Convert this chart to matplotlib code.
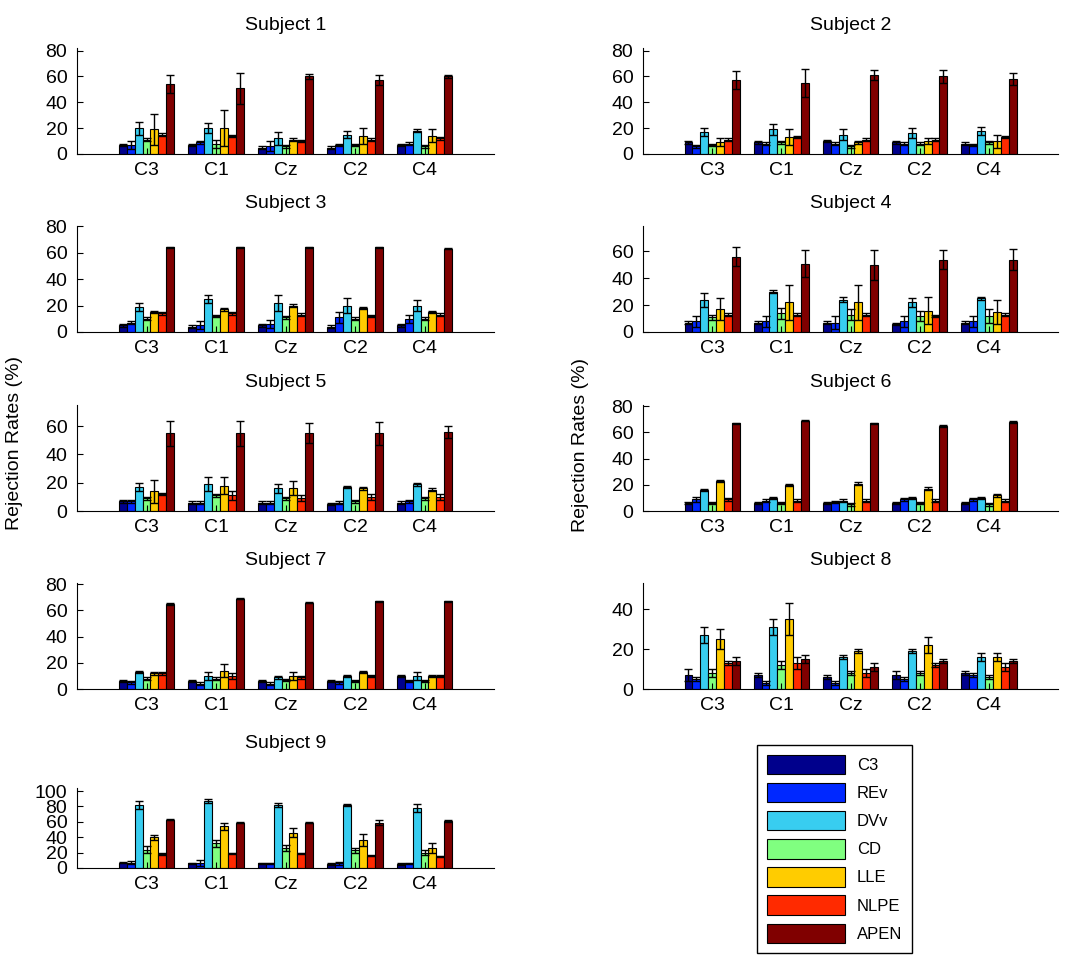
import numpy as np
import matplotlib
matplotlib.use("Agg")
import matplotlib.pyplot as plt

plt.rcParams["font.family"] = ["Liberation Sans", "DejaVu Sans"]

electrodes = ["C3", "C1", "Cz", "C2", "C4"]
methods = ["C3", "REv", "DVv", "CD", "LLE", "NLPE", "APEN"]

# rows = electrodes, columns = methods (mean rejection rate in %, and its error)
s1_mean = [[7, 7, 20, 11, 19, 15, 54],
           [7, 9, 20, 8, 20, 14, 51],
           [5, 6, 12, 6, 11, 10, 60],
           [5, 7, 15, 7, 14, 11, 57],
           [7, 8, 18, 6, 14, 12, 60]]
s1_err = [[1, 3, 5, 1, 12, 1, 7],
          [1, 1, 4, 3, 14, 1, 12],
          [1, 4, 5, 1, 1, 1, 2],
          [1, 1, 3, 1, 6, 1, 4],
          [1, 1, 1, 1, 5, 1, 1]]

s2_mean = [[9, 6, 17, 7, 9, 11, 57],
           [9, 8, 19, 9, 13, 13, 55],
           [10, 8, 15, 6, 9, 11, 61],
           [9, 8, 16, 8, 10, 11, 60],
           [8, 7, 18, 9, 10, 13, 58]]
s2_err = [[1, 1, 3, 1, 3, 1, 7],
          [1, 1, 4, 1, 6, 1, 11],
          [1, 1, 4, 1, 1, 1, 4],
          [1, 1, 4, 1, 2, 1, 5],
          [1, 1, 3, 1, 5, 1, 5]]

s3_mean = [[5, 7, 19, 10, 15, 14, 64],
           [4, 5, 25, 12, 17, 14, 64],
           [5, 6, 22, 11, 20, 13, 64],
           [4, 11, 20, 10, 18, 12, 64],
           [5, 10, 20, 10, 15, 13, 63]]
s3_err = [[1, 1, 3, 1, 1, 1, 0.5],
          [1, 3, 3, 1, 1, 1, 0.5],
          [1, 3, 6, 1, 1, 1, 0.5],
          [1, 4, 6, 1, 1, 1, 0.5],
          [1, 3, 4, 1, 1, 1, 0.5]]

s4_mean = [[7, 8, 24, 11, 17, 13, 56],
           [7, 8, 30, 14, 22, 13, 51],
           [7, 7, 24, 13, 22, 13, 50],
           [6, 8, 22, 12, 16, 12, 54],
           [7, 8, 25, 12, 15, 13, 54]]
s4_err = [[1, 4, 5, 2, 8, 1, 7],
          [1, 4, 1, 4, 13, 1, 10],
          [1, 5, 2, 4, 13, 1, 11],
          [1, 4, 3, 4, 10, 1, 7],
          [1, 4, 1, 5, 9, 1, 8]]

s5_mean = [[7, 7, 17, 9, 14, 12, 55],
           [6, 6, 19, 11, 18, 11, 55],
           [6, 6, 16, 9, 16, 9, 55],
           [5, 6, 17, 7, 16, 10, 55],
           [6, 7, 19, 9, 15, 10, 56]]
s5_err = [[1, 1, 3, 1, 8, 1, 9],
          [1, 1, 5, 1, 6, 3, 9],
          [1, 1, 3, 1, 5, 2, 7],
          [1, 1, 1, 1, 1, 2, 8],
          [1, 1, 1, 1, 1, 2, 4]]

s6_mean = [[6, 9, 16, 6, 23, 9, 67],
           [6, 8, 10, 6, 20, 8, 69],
           [6, 7, 8, 5, 21, 8, 67],
           [6, 9, 10, 6, 17, 8, 65],
           [6, 9, 10, 5, 12, 8, 68]]
s6_err = [[1, 2, 1, 1, 1, 1, 0.5],
          [1, 1, 1, 1, 1, 1, 0.5],
          [1, 1, 1, 1, 1, 1, 0.5],
          [1, 1, 1, 1, 1, 1, 0.5],
          [1, 1, 1, 1, 1, 1, 0.5]]

s7_mean = [[6, 5, 13, 8, 12, 12, 65],
           [6, 4, 10, 8, 14, 10, 69],
           [6, 4, 9, 7, 10, 9, 66],
           [6, 5, 10, 6, 13, 10, 67],
           [10, 6, 10, 6, 10, 10, 67]]
s7_err = [[1, 1, 1, 1, 1, 1, 0.5],
          [1, 1, 3, 1, 5, 2, 0.5],
          [1, 1, 1, 1, 3, 1, 0.5],
          [1, 1, 1, 1, 1, 1, 0.5],
          [1, 1, 3, 1, 1, 1, 0.5]]

s8_mean = [[7, 5, 27, 8, 25, 13, 14],
           [7, 3, 31, 12, 35, 13, 15],
           [6, 3, 16, 8, 19, 8, 11],
           [7, 5, 19, 8, 22, 12, 14],
           [8, 7, 16, 6, 16, 11, 14]]
s8_err = [[3, 1, 4, 2, 5, 1, 2],
          [1, 1, 4, 2, 8, 3, 2],
          [1, 1, 1, 1, 1, 2, 2],
          [2, 1, 1, 1, 4, 1, 1],
          [1, 1, 2, 1, 2, 2, 1]]

s9_mean = [[7, 7, 82, 24, 40, 18, 63],
           [6, 7, 87, 32, 54, 19, 59],
           [6, 6, 82, 26, 46, 19, 59],
           [5, 6, 82, 23, 36, 16, 59],
           [5, 6, 78, 20, 26, 15, 61]]
s9_err = [[1, 2, 5, 5, 3, 1, 0.5],
          [1, 4, 3, 5, 4, 1, 1],
          [1, 1, 3, 4, 6, 1, 1],
          [1, 2, 1, 3, 8, 1, 3],
          [1, 1, 5, 3, 6, 1, 1]]

subject_means = [s1_mean, s2_mean, s3_mean, s4_mean, s5_mean,
                 s6_mean, s7_mean, s8_mean, s9_mean]
subject_errs = [s1_err, s2_err, s3_err, s4_err, s5_err,
                s6_err, s7_err, s8_err, s9_err]
y_tops = [82, 82, 80, 79, 75, 81, 81, 53, 104]
y_ticks = [range(0, 81, 20), range(0, 81, 20), range(0, 81, 20),
           range(0, 61, 20), range(0, 61, 20), range(0, 81, 20),
           range(0, 81, 20), range(0, 41, 20), range(0, 101, 20)]

colors = ["#00008c", "#0028ff", "#38cdf0", "#80ff80",
          "#ffcc00", "#ff2a00", "#800000"]

W, H = 1080, 961
fig = plt.figure(figsize=(W / 100, H / 100), dpi=100)

col_x = [(77, 494), (643, 1058)]
row_base = [154, 332, 511, 689, 868]
row_h = [106, 106, 106, 106, 80]

bar_w = 0.8 / len(methods)
x = np.arange(1, len(electrodes) + 1)
handles = []

for k in range(9):
    row, col = divmod(k, 2)
    x0, x1 = col_x[col]
    ax = fig.add_axes([x0 / W, 1 - row_base[row] / H, (x1 - x0) / W, row_h[row] / H])
    means = np.array(subject_means[k], dtype=float)
    errs = np.array(subject_errs[k], dtype=float)
    for j in range(len(methods)):
        xs = x + (j - 3) * bar_w
        b = ax.bar(xs, means[:, j], bar_w, color=colors[j],
                   edgecolor="black", linewidth=0.8)
        ax.errorbar(xs, means[:, j], yerr=errs[:, j], fmt="none",
                    ecolor="black", elinewidth=1, capsize=3, capthick=1)
        if k == 0:
            handles.append(b)
    ax.set_xlim(0, 6)
    ax.set_ylim(0, y_tops[k])
    ax.set_xticks(x, electrodes)
    ax.set_yticks(list(y_ticks[k]))
    for s in ("top", "right"):
        ax.spines[s].set_visible(False)
    ax.tick_params(direction="in", length=4, labelsize=14)
    ax.tick_params(axis="x", pad=6)
    ax.tick_params(axis="y", pad=7)
    ax.set_title(f"Subject {k + 1}", fontsize=14, pad=29 if k == 8 else 13)

fig.text(15 / W, 1 - 443 / H, "Rejection Rates (%)", rotation=90,
         ha="center", va="center", fontsize=14)
fig.text(580 / W, 1 - 445 / H, "Rejection Rates (%)", rotation=90,
         ha="center", va="center", fontsize=14)

leg = fig.legend(handles, methods, loc="upper left",
                 bbox_to_anchor=(757 / W, 1 - 745 / H), borderaxespad=0,
                 fontsize=12, frameon=True, fancybox=False, framealpha=1,
                 edgecolor="black", handlelength=4.7, handleheight=1.4,
                 labelspacing=0.53, handletextpad=0.7, borderpad=0.6)
leg.get_frame().set_linewidth(1)

fig.savefig("out.png", dpi=100)
